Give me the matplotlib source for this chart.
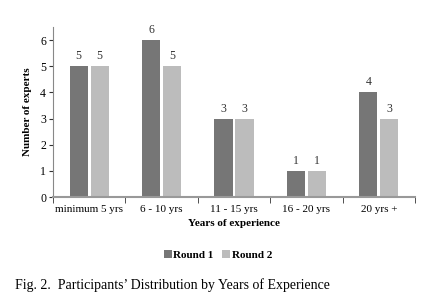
import numpy as np
import matplotlib.pyplot as plt

categories = ['minimum 5 yrs', '6 - 10 yrs', '11 - 15 yrs', '16 - 20 yrs', '20 yrs +']
round1 = [5, 6, 3, 1, 4]
round2 = [5, 5, 3, 1, 3]

plt.rcParams['font.family'] = 'Liberation Serif'

fig = plt.figure(figsize=(4.35, 3.02), dpi=100)
ax = fig.add_axes([53 / 435, 1 - 197 / 302, (415 - 53) / 435, (197 - 27) / 302])

x = np.arange(len(categories))
w = 0.25
b1 = ax.bar(x - 0.145, round1, w, color='#767676', label='Round 1')
b2 = ax.bar(x + 0.145, round2, w, color='#bcbcbc', label='Round 2')
for bars in (b1, b2):
    for r in bars:
        ax.text(r.get_x() + r.get_width() / 2, r.get_height() + 0.15, str(int(r.get_height())),
                ha='center', va='bottom', fontsize=8.5, color='#333333')

ax.set_xlim(-0.5, len(categories) - 0.5)
ax.set_ylim(0, 6.5)
ax.set_yticks(range(7))
ax.set_xticks(x)
ax.set_xticklabels(categories, fontsize=8)
ax.set_xticks(np.arange(len(categories) + 1) - 0.5, minor=True)
ax.tick_params(axis='x', which='major', length=0, pad=6)
ax.tick_params(axis='x', which='minor', length=4, color='#333333', direction='out')
ax.tick_params(axis='y', labelsize=8.5, length=3, color='#333333', pad=2)

for s in ['top', 'right']:
    ax.spines[s].set_visible(False)
ax.spines['bottom'].set_color('#999999')
ax.spines['bottom'].set_linewidth(1.5)
ax.spines['left'].set_color('#888888')

ax.set_xlabel('Years of experience', fontsize=8, fontweight='bold', labelpad=3)
ax.set_ylabel('Number of experts', fontsize=8, fontweight='bold', labelpad=6)

fig.legend(handles=[b1, b2], loc='center', bbox_to_anchor=(218 / 435, 1 - 255 / 302), ncol=2,
           frameon=False, prop={'weight': 'bold', 'size': 8},
           handlelength=0.7, handleheight=0.7, handletextpad=0.15, columnspacing=0.8)

fig.text(15 / 435, 1 - 285 / 302, 'Fig. 2.  Participants\u2019 Distribution by Years of Experience',
         fontsize=10, ha='left', va='center')

fig.savefig('out.png', dpi=100)
